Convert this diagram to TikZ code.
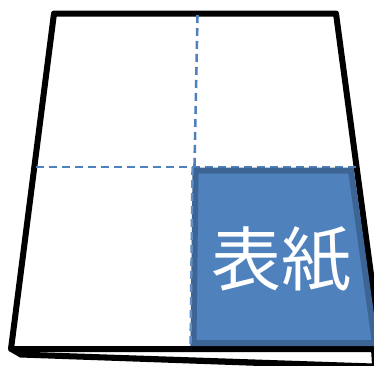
\documentclass[tikz,border=0pt]{standalone}
\usepackage{fontspec}
\newfontfamily\cjkfont{Noto Sans CJK JP}
\definecolor{panelblue}{HTML}{4F81BD}
\definecolor{paneledge}{HTML}{3C6595}
\tikzset{
  outline/.style={draw=black,line width=6pt,line join=round},
  foldline/.style={draw=panelblue,dash pattern=on 8pt off 5pt},
  panel/.style={fill=panelblue,draw=paneledge,line width=6pt,line join=miter},
  paneltext/.style={text=white,font=\cjkfont\fontsize{70}{70}\selectfont,inner sep=0pt}
}
\begin{document}
\begin{tikzpicture}[x=1pt,y=-1pt]
\useasboundingbox (0,0) rectangle (374,365);
\begin{scope}
\clip (0,0) rectangle (374,365);
\fill[white] (0,0) rectangle (374,365);
% back sheet
\fill[black] (8.5,346) -- (9,351) -- (20,357.5) -- (374,370) -- (374,363.5) -- (33,352) -- (25,349) -- cycle;
\draw[black,line width=3pt] (372.5,349) -- (373.5,365);
% front sheet
\draw[outline] (11,349) -- (54,13.5) -- (336,13.5) -- (381,349) -- cycle;
% fold lines
\draw[foldline,line width=2pt] (36,166.5) -- (356,166.5);
\draw[foldline,line width=2.6pt] (197.5,15) -- (194.5,166);
% blue panel
\path[panel] (195.5,170.5) -- (351,170.5) -- (375,343) -- (193.5,343) -- cycle;
\draw[foldline,line width=2.4pt,draw=panelblue!90!white] (192.5,167) -- (190.5,346);
\node[paneltext] (cover) at (281,260) {表紙};
\end{scope}
\end{tikzpicture}
\end{document}
